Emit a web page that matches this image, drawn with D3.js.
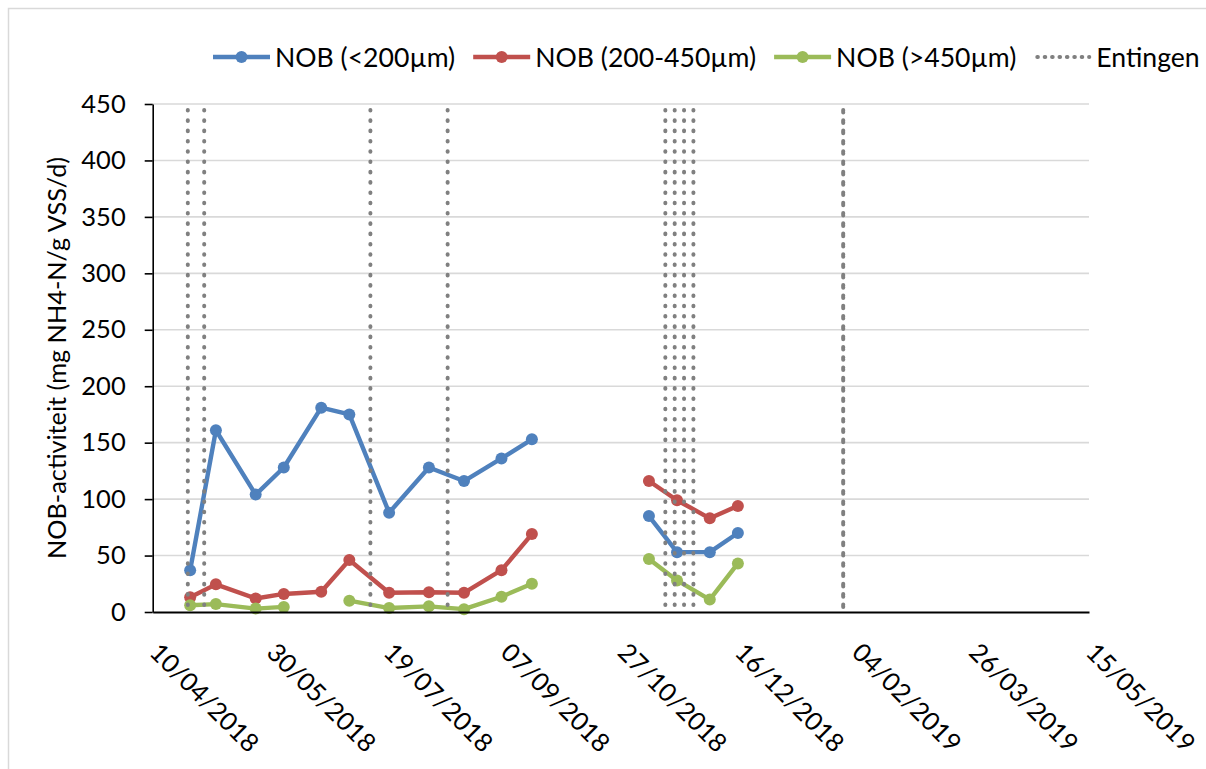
<!DOCTYPE html>
<html>
<head>
<meta charset="utf-8">
<script src="https://cdn.jsdelivr.net/npm/d3@7"></script>
<style>
  html, body { margin: 0; padding: 0; background: #fff; }
  svg { display: block; }
  text { font-family: Lato, "Open Sans", sans-serif; fill: #000; }
</style>
</head>
<body>
<svg id="chart" width="1206" height="769"></svg>
<script>
// Sampling dates (a blank row separates the two measuring campaigns)
const sampleDates = [
  "2018-04-26", "2018-05-07", "2018-05-24", "2018-06-05", "2018-06-21",
  "2018-07-03", "2018-07-20", "2018-08-06", "2018-08-21", "2018-09-06",
  "2018-09-19", "2018-10-15", "2018-11-08", "2018-11-20", "2018-12-04",
  "2018-12-16"
];
// NOB activity per size fraction (mg NH4-N/g VSS/d)
const nobSmall  = [37, 161, 104, 128, 181, 175, 88, 128, 116, 136, 153, null, 85, 53, 53, 70];
const nobMedium = [13, 24.5, 12, 16, 18, 46, 17, 17.5, 17, 37, 69, null, 116, 99, 83, 94];
const nobLarge  = [6, 7, 3, 4.5, null, 10, 3.5, 5, 2.5, 13.5, 25, null, 47, 28, 11, 43];
const seriesNames = ["NOB (<200µm)", "NOB (200-450µm)", "NOB (>450µm)"];
const seriesColors = ["#4F81BD", "#C0504D", "#9BBB59"];

// Inoculation moments
const inoculationDates = [
  "2018-04-25", "2018-05-02", "2018-07-12", "2018-08-14",
  "2018-11-15", "2018-11-19", "2018-11-23", "2018-11-27",
  "2019-01-30", "2019-01-30"
];
const inoculationName = "Entingen";

// Axis ticks
const xTickLabels = ["10/04/2018", "30/05/2018", "19/07/2018", "07/09/2018", "27/10/2018",
                     "16/12/2018", "04/02/2019", "26/03/2019", "15/05/2019"];
const yTickValues = [0, 50, 100, 150, 200, 250, 300, 350, 400, 450];
const yTitle = "NOB-activiteit (mg NH4-N/g VSS/d)";

const parseIso = d3.utcParse("%Y-%m-%d");
const parseTick = d3.utcParse("%d/%m/%Y");
const fmtTick = d3.utcFormat("%d/%m/%Y");

const svg = d3.select("#chart");
const plot = { left: 152.7, right: 1089, top: 104, bottom: 612 };

const tickDates = xTickLabels.map(parseTick);
const x = d3.scaleUtc()
  .domain([tickDates[0], tickDates[tickDates.length - 1]])
  .range([plot.left, plot.right]);
const y = d3.scaleLinear()
  .domain([0, d3.max(yTickValues)])
  .range([plot.bottom, plot.top]);

// Chart area frame
svg.append("rect")
  .attr("x", 8.5).attr("y", 8.5)
  .attr("width", 1400).attr("height", 1000)
  .attr("fill", "none").attr("stroke", "#D9D9D9").attr("stroke-width", 1.5);

// Horizontal gridlines
svg.append("g")
  .selectAll("line")
  .data(yTickValues.filter(v => v > 0))
  .join("line")
  .attr("x1", plot.left).attr("x2", plot.right)
  .attr("y1", d => y(d)).attr("y2", d => y(d))
  .attr("stroke", "#D9D9D9").attr("stroke-width", 1.6);

// Series lines and markers
const dates = sampleDates.map(parseIso);
const seriesValues = [nobSmall, nobMedium, nobLarge];
const line = d3.line()
  .defined(d => d.v != null)
  .x(d => x(d.date))
  .y(d => y(d.v));

seriesValues.forEach((vals, i) => {
  const pts = vals.map((v, k) => ({ date: dates[k], v }));
  const g = svg.append("g");
  g.append("path")
    .attr("d", line(pts))
    .attr("fill", "none")
    .attr("stroke", seriesColors[i])
    .attr("stroke-width", 4.4)
    .attr("stroke-linejoin", "round")
    .attr("stroke-linecap", "round");
  g.selectAll("circle")
    .data(pts.filter(p => p.v != null))
    .join("circle")
    .attr("cx", d => x(d.date))
    .attr("cy", d => y(d.v))
    .attr("r", 6)
    .attr("fill", seriesColors[i]);
});

// Dotted inoculation markers (repeated dates get a small dash shift)
const seen = {};
const inoc = inoculationDates.map(s => {
  seen[s] = (seen[s] || 0) + 1;
  return { date: parseIso(s), rep: seen[s] - 1 };
});
const dotStyle = { color: "#808080", width: 4, dash: "0.6,9.7" };
svg.append("g")
  .selectAll("line")
  .data(inoc)
  .join("line")
  .attr("x1", d => x(d.date)).attr("x2", d => x(d.date))
  .attr("y1", y(450) + 6).attr("y2", y(0))
  .attr("stroke", dotStyle.color)
  .attr("stroke-width", dotStyle.width)
  .attr("stroke-linecap", "round")
  .attr("stroke-dasharray", dotStyle.dash)
  .attr("stroke-dashoffset", d => -d.rep * 2);

// Y axis
const yAxis = svg.append("g")
  .attr("transform", `translate(${plot.left},0)`)
  .call(d3.axisLeft(y).tickValues(yTickValues).tickSize(8).tickPadding(19).tickSizeOuter(0));
yAxis.select(".domain").attr("stroke", "#000").attr("stroke-width", 1.6);
yAxis.selectAll(".tick line").attr("stroke", "#000").attr("stroke-width", 1.6);
yAxis.selectAll(".tick text")
  .attr("font-family", "Lato, sans-serif")
  .attr("font-size", 25.5)
  .attr("fill", "#000");

// X axis
const xAxis = svg.append("g")
  .attr("transform", `translate(0,${plot.bottom})`)
  .call(d3.axisBottom(x).tickValues(tickDates).tickFormat(fmtTick).tickSize(0).tickSizeOuter(0));
xAxis.select(".domain").attr("stroke", "#000").attr("stroke-width", 2.2);
xAxis.selectAll(".tick text")
  .attr("font-family", "Lato, sans-serif")
  .attr("font-size", 25.5)
  .attr("fill", "#000")
  .attr("text-anchor", "start")
  .attr("dy", null)
  .attr("y", null)
  .attr("transform", "translate(-5,42) rotate(45)");

// Y axis title
svg.append("text")
  .attr("transform", `translate(66,${(plot.top + plot.bottom) / 2}) rotate(-90)`)
  .attr("text-anchor", "middle")
  .attr("font-size", 25.3)
  .text(yTitle);

// Legend
const legendItems = seriesNames.map((n, i) => ({ name: n, color: seriesColors[i], type: "series" }))
  .concat([{ name: inoculationName, color: dotStyle.color, type: "dots" }]);
const legend = svg.append("g").attr("transform", "translate(213,57)");
let lx = 0;
legendItems.forEach(item => {
  const g = legend.append("g").attr("transform", `translate(${lx},0)`);
  if (item.type === "series") {
    g.append("line").attr("x1", 0).attr("x2", 57).attr("y1", 0).attr("y2", 0)
      .attr("stroke", item.color).attr("stroke-width", 4.4);
    g.append("circle").attr("cx", 28.5).attr("cy", 0).attr("r", 6).attr("fill", item.color);
  } else {
    g.append("line").attr("x1", 3).attr("x2", 55).attr("y1", 0).attr("y2", 0)
      .attr("stroke", item.color).attr("stroke-width", dotStyle.width)
      .attr("stroke-linecap", "round")
      .attr("stroke-dasharray", "0.6,6.8");
  }
  const t = g.append("text")
    .attr("x", 62).attr("y", 9.5)
    .attr("font-size", 26.6)
    .text(item.name);
  lx += 62 + t.node().getComputedTextLength() + 18;
});
</script>
</body>
</html>
